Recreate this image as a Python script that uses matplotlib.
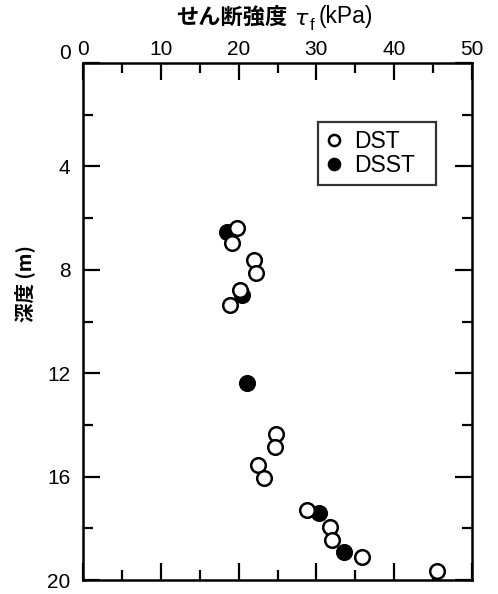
import matplotlib
matplotlib.use("Agg")
import matplotlib.pyplot as plt
from matplotlib.lines import Line2D
from matplotlib.ticker import MultipleLocator

plt.rcParams['font.family'] = ['Liberation Sans', 'Noto Sans CJK JP', 'DejaVu Sans']

# Direct shear test (DST)
dst_strength = [19.8, 19.1, 22.0, 22.3, 20.2, 18.9, 24.8, 24.7, 22.5, 23.3,
                28.8, 31.7, 32.0, 35.9, 45.5]
dst_depth = [6.40, 6.95, 7.62, 8.13, 8.80, 9.35, 14.35, 14.85, 15.55, 16.05,
             17.30, 17.95, 18.45, 19.12, 19.65]

# Direct simple shear test (DSST)
dsst_strength = [18.5, 20.4, 21.1, 30.3, 33.5]
dsst_depth = [6.55, 8.97, 12.38, 17.40, 18.93]

x_ticks = [0, 10, 20, 30, 40, 50]
y_ticks = [0, 4, 8, 12, 16, 20]

W, H = 498, 594
fig = plt.figure(figsize=(W / 100, H / 100), dpi=100)
ax = fig.add_axes([83 / W, 1 - 580 / H, (472 - 83) / W, (580 - 63) / H])

ax.plot(dsst_strength, dsst_depth, linestyle='none', marker='o', markersize=10.5,
        markerfacecolor='black', markeredgecolor='black', markeredgewidth=1.8, zorder=3)
ax.plot(dst_strength, dst_depth, linestyle='none', marker='o', markersize=10.5,
        markerfacecolor='white', markeredgecolor='black', markeredgewidth=1.8, zorder=4)

ax.set_xlim(0, 50)
ax.set_ylim(20, 0)
ax.set_xticks(x_ticks)
ax.set_yticks(y_ticks)
ax.xaxis.set_minor_locator(MultipleLocator(5))
ax.yaxis.set_minor_locator(MultipleLocator(2))
ax.xaxis.tick_top()
ax.tick_params(which='both', direction='in', top=True, bottom=True, left=True, right=True,
               labeltop=True, labelbottom=False, labelleft=True, labelright=False,
               width=1.6, labelsize=15)
ax.tick_params(axis='x', pad=3)
ax.tick_params(axis='y', pad=9)
ax.tick_params(which='major', length=12)
ax.tick_params(which='minor', length=7)
for s in ax.spines.values():
    s.set_linewidth(1.8)

# The depth-zero label sits just above the top spine
fig.canvas.draw()
ax.get_yticklabels()[0].set_va('bottom')

ax.set_ylabel('深度 (m)', fontsize=14, fontweight='bold',
              family=['Noto Sans CJK JP', 'DejaVu Sans'])
ax.yaxis.label.set_va('center')
ax.yaxis.set_label_coords(-0.149, 0.5725)

# Title: shear strength with subscript f
tfam = ['Noto Sans CJK JP', 'DejaVu Sans']
ty = 1 - 17 / H
fig.text(176 / W, ty, 'せん断強度', fontsize=16, fontweight='bold',
         family=tfam, ha='left', va='center')
fig.text(294 / W, 1 - 19 / H, 'τ', fontsize=16, family=['DejaVu Sans'],
         style='italic', ha='left', va='center')
fig.text(310 / W, 1 - 26 / H, 'f', fontsize=12, ha='left', va='center')
fig.text(319 / W, ty, '(kPa)', fontsize=16.5, ha='left', va='center')

handles = [
    Line2D([], [], linestyle='none', marker='o', markersize=8, markerfacecolor='white',
           markeredgecolor='black', markeredgewidth=1.8, label='DST'),
    Line2D([], [], linestyle='none', marker='o', markersize=8, markerfacecolor='black',
           markeredgecolor='black', markeredgewidth=1.8, label='DSST'),
]
leg = ax.legend(handles=handles, loc='upper left',
                bbox_to_anchor=(0.605, 0.768, 0.303, 0.118), mode='expand',
                fontsize=16.5, frameon=True, fancybox=False, borderpad=0.35,
                handlelength=0.7, handletextpad=0.5, labelspacing=0.05,
                borderaxespad=0)
leg.get_frame().set_edgecolor('black')
leg.get_frame().set_linewidth(1.6)

fig.savefig('out.png', dpi=100)
